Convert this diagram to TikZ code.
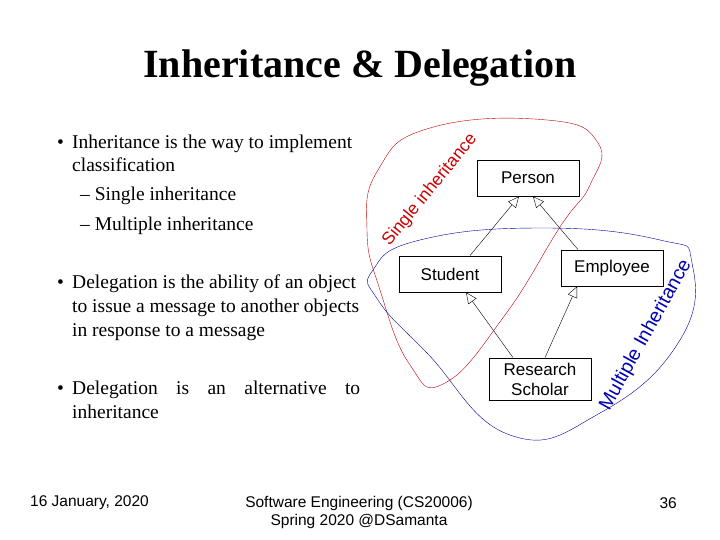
\documentclass[tikz,border=0pt]{standalone}
\usepackage{fontspec}
\setmainfont{Liberation Serif}
\newfontfamily\sansf{Liberation Sans}
\usetikzlibrary{arrows.meta}
\begin{document}
\begin{tikzpicture}[x=1pt,y=-1pt,
  cls/.style={draw,thick,font=\sansf\fontsize{17}{20}\selectfont,minimum width=102pt,align=center,inner sep=0pt},
  inh/.style={-{Triangle[open,length=11pt,width=10pt]},thin},
  body/.style={anchor=base west,font=\fontsize{19.5}{22}\selectfont,inner sep=0pt},
  foot/.style={font=\sansf\fontsize{15.5}{18}\selectfont,inner sep=0pt}]
\useasboundingbox (0,0) rectangle (720,540);
\node[font=\bfseries\fontsize{40}{44}\selectfont] (title) at (360,68) {Inheritance \& Delegation};
% bullets
\node[body] (b1) at (57,149) {•};
\node[body] (t1) at (72,149) {Inheritance is the way to implement};
\node[body] (t1b) at (72,172) {classification};
\node[body] (s1) at (80,201) {– Single inheritance};
\node[body] (s2) at (80,230) {– Multiple inheritance};
\node[body] (b2) at (57,288) {•};
\node[body] (t2) at (72,288) {Delegation is the ability of an object};
\node[body] (t2b) at (72,312) {to issue a message to another objects};
\node[body] (t2c) at (72,336) {in response to a message};
\node[body] (b3) at (57,394) {•};
\node[body] (t3) at (72,394) {\makebox[288pt][s]{Delegation is an alternative to}};
\node[body] (t3b) at (72,418) {inheritance};
% classes
\node[cls,minimum height=36pt] (person) at (528,178) {Person};
\node[cls,minimum height=36pt] (student) at (450,274) {Student};
\node[cls,minimum height=36pt] (employee) at (612,268) {Employee};
\node[cls,minimum height=42pt] (rs) at (540,379) {Research\\Scholar};
\draw[inh] ([xshift=20pt]student.north) -- ([xshift=-9pt]person.south);
\draw[inh] ([xshift=-34pt]employee.north) -- ([xshift=5pt]person.south);
\draw[inh] ([xshift=-27pt]rs.north) -- ([xshift=16pt]student.south);
\draw[inh] ([xshift=5pt]rs.north) -- ([xshift=-35pt]employee.south);
% loops
\draw[red!75!black,thin] plot[smooth cycle,tension=0.8] coordinates
 {(547,120) (598,143) (590,185) (560,227) (505,315) (445,383) (410,365) (380,290) (367,230) (378,170) (430,128)};
\draw[blue!60!black,thin] plot[smooth cycle,tension=0.8] coordinates
 {(543,228) (660,240) (692,263) (680,340) (600,413) (510,435) (427,353) (378,300) (373,270) (420,240)};
\node[text=red!80!black,font=\sansf\fontsize{17.5}{20}\selectfont,rotate=51,inner sep=0pt] (sl) at (430,190) {Single inheritance};
\node[text=blue!70!black,font=\sansf\fontsize{19.5}{20}\selectfont,rotate=61,inner sep=0pt] (ml) at (646,335) {Multiple Inheritance};
% footer
\node[foot,anchor=west] (date) at (30,503) {16 January, 2020};
\node[foot,align=center] (course) at (359,512) {Software Engineering (CS20006)\\Spring 2020 @DSamanta};
\node[foot,anchor=east] (page) at (677,503) {36};
\end{tikzpicture}
\end{document}
